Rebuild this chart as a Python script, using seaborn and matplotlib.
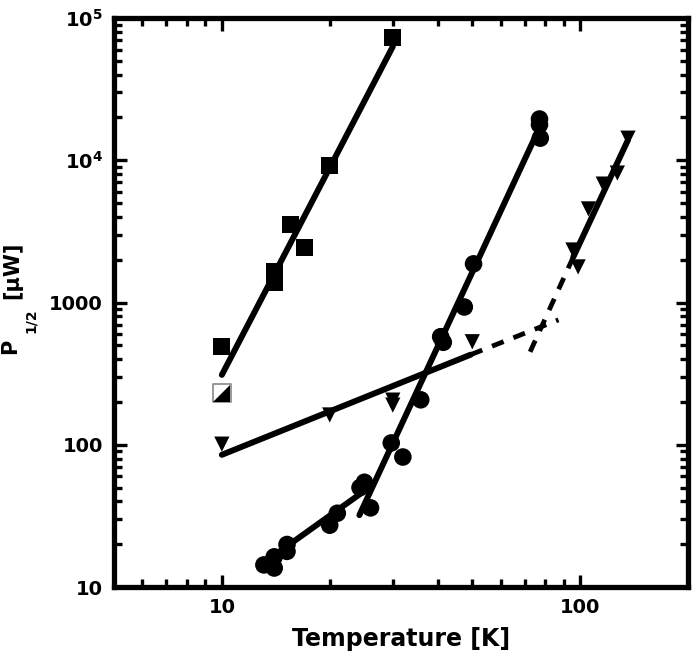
import numpy as np
import pandas as pd
import matplotlib
matplotlib.use("Agg")
import matplotlib.pyplot as plt
import matplotlib.ticker as mticker
import seaborn as sns

# --- data (T in K, P_1/2 in uW) ---
sq_T = [10, 14.0, 14.0, 15.5, 17.0, 20.0, 30.0]
sq_P = [490, 1640, 1390, 3550, 2430, 9260, 73500]

half_T = [10]
half_P = [231]

circ_T = [13.1, 14.0, 14.0, 15.2, 15.2, 20.0, 21.0, 24.3, 25.0, 26.0,
          29.7, 32.0, 35.9, 40.8, 41.5, 47.5, 50.4, 77.0, 77.0, 77.4]
circ_P = [14.3, 13.6, 16.3, 19.9, 17.8, 27.2, 33.0, 50, 54.5, 36,
          103, 82, 207, 575, 525, 930, 1870, 19500, 17800, 14300]

tri_T = [10, 20, 30, 30, 50, 95.5, 98.7, 105.5, 116, 127, 136]
tri_P = [101, 162, 206, 190, 530, 2340, 1780, 4550, 6800, 8130, 14300]

# fitted lines (end points)
sq_fit_T, sq_fit_P = [10, 30], [310, 63000]
circ_lo_T, circ_lo_P = [13.1, 25.6], [14.8, 49.5]
circ_hi_T, circ_hi_P = [24.2, 76.0], [32, 15800]
tri_lo_T, tri_lo_P = [10, 49.5], [85, 430]
tri_lo_dash_T, tri_lo_dash_P = [49.5, 87], [430, 755]
tri_hi_T, tri_hi_P = [95.7, 136], [2090, 13900]
tri_hi_dash_T, tri_hi_dash_P = [72.5, 95.7], [450, 2090]

x_ticks = [10, 100]
x_tick_labels = ["10", "100"]
y_ticks = [10, 100, 1000, 1e4, 1e5]
y_tick_labels = ["10", "100", "1000", r"$\mathbf{10^4}$", r"$\mathbf{10^5}$"]

# --- style ---
sns.set_style("ticks")
plt.rcParams["font.family"] = ["DejaVu Sans"]
plt.rcParams.update({
    "font.weight": "bold",
    "mathtext.fontset": "dejavusans",
    "mathtext.default": "bf",
    "text.color": "black",
    "axes.edgecolor": "black",
    "axes.labelcolor": "black",
    "xtick.color": "black",
    "ytick.color": "black",
})

fig = plt.figure(figsize=(6.93, 6.6), dpi=100)
ax = fig.add_axes([0.1645, 0.1106, 0.8283, 0.8621])

lw = 4.3
sns.lineplot(x=sq_fit_T, y=sq_fit_P, ax=ax, color="black", lw=lw, estimator=None)
sns.lineplot(x=circ_lo_T, y=circ_lo_P, ax=ax, color="black", lw=lw, estimator=None)
sns.lineplot(x=circ_hi_T, y=circ_hi_P, ax=ax, color="black", lw=lw, estimator=None)
sns.lineplot(x=tri_lo_T, y=tri_lo_P, ax=ax, color="black", lw=lw, estimator=None)
sns.lineplot(x=tri_hi_T, y=tri_hi_P, ax=ax, color="black", lw=lw, estimator=None)
for tt, pp in [(tri_lo_dash_T, tri_lo_dash_P), (tri_hi_dash_T, tri_hi_dash_P)]:
    sns.lineplot(x=tt, y=pp, ax=ax, color="black", lw=lw * 0.8, estimator=None,
                 linestyle=(0, (2.6, 2.2)))

sns.scatterplot(x=sq_T, y=sq_P, ax=ax, marker="s", s=150, color="black",
                edgecolor="none", zorder=3)
sns.scatterplot(x=circ_T, y=circ_P, ax=ax, marker="o", s=160, color="black",
                edgecolor="none", zorder=3)
sns.scatterplot(x=tri_T, y=tri_P, ax=ax, marker="v", s=120, color="black",
                edgecolor="none", zorder=3)
# half-filled square
sns.scatterplot(x=half_T, y=half_P, ax=ax, marker="s", s=150, color="white",
                edgecolor="#888888", linewidth=1.2, zorder=3)
sns.scatterplot(x=half_T, y=half_P, ax=ax,
                marker=[(-1, -1), (1, -1), (1, 1)], s=150, color="black",
                edgecolor="none", zorder=4)

ax.set_xscale("log")
ax.set_yscale("log")
ax.set_xlim(5, 200)
ax.set_ylim(10, 1e5)

ax.xaxis.set_major_locator(mticker.FixedLocator(x_ticks))
ax.xaxis.set_major_formatter(mticker.FixedFormatter(x_tick_labels))
ax.xaxis.set_minor_locator(mticker.LogLocator(base=10, subs=np.arange(2, 10)))
ax.xaxis.set_minor_formatter(mticker.NullFormatter())
ax.yaxis.set_major_locator(mticker.FixedLocator(y_ticks))
ax.yaxis.set_major_formatter(mticker.FixedFormatter(y_tick_labels))
ax.yaxis.set_minor_locator(mticker.LogLocator(base=10, subs=np.arange(2, 10)))
ax.yaxis.set_minor_formatter(mticker.NullFormatter())

for sp in ax.spines.values():
    sp.set_linewidth(3.8)
    sp.set_color("black")
    sp.set_visible(True)
ax.tick_params(which="both", direction="in", top=True, right=True, width=2.4,
               labelsize=14, pad=8, colors="black")
ax.tick_params(which="major", length=9)
ax.tick_params(which="minor", length=5.5)
for lab in ax.get_xticklabels() + ax.get_yticklabels():
    lab.set_fontweight("bold")

ax.set_xlabel("Temperature [K]", fontsize=17, fontweight="bold", labelpad=7,
              color="black")

# y label built from pieces so the subscript sits low like the original
def fpos(px, py):
    return px / 693, 1 - py / 660

fig.text(*fpos(10, 346), "P", rotation=90, ha="center", va="center",
         fontsize=15, fontweight="bold", color="black")
fig.text(*fpos(31, 321), "1/2", rotation=90, ha="center", va="center",
         fontsize=10, fontweight="bold", color="black")
fig.text(*fpos(12, 270), "[µW]", rotation=90, ha="center", va="center",
         fontsize=15, fontweight="bold", color="black")

plt.savefig("out.png", dpi=100)
